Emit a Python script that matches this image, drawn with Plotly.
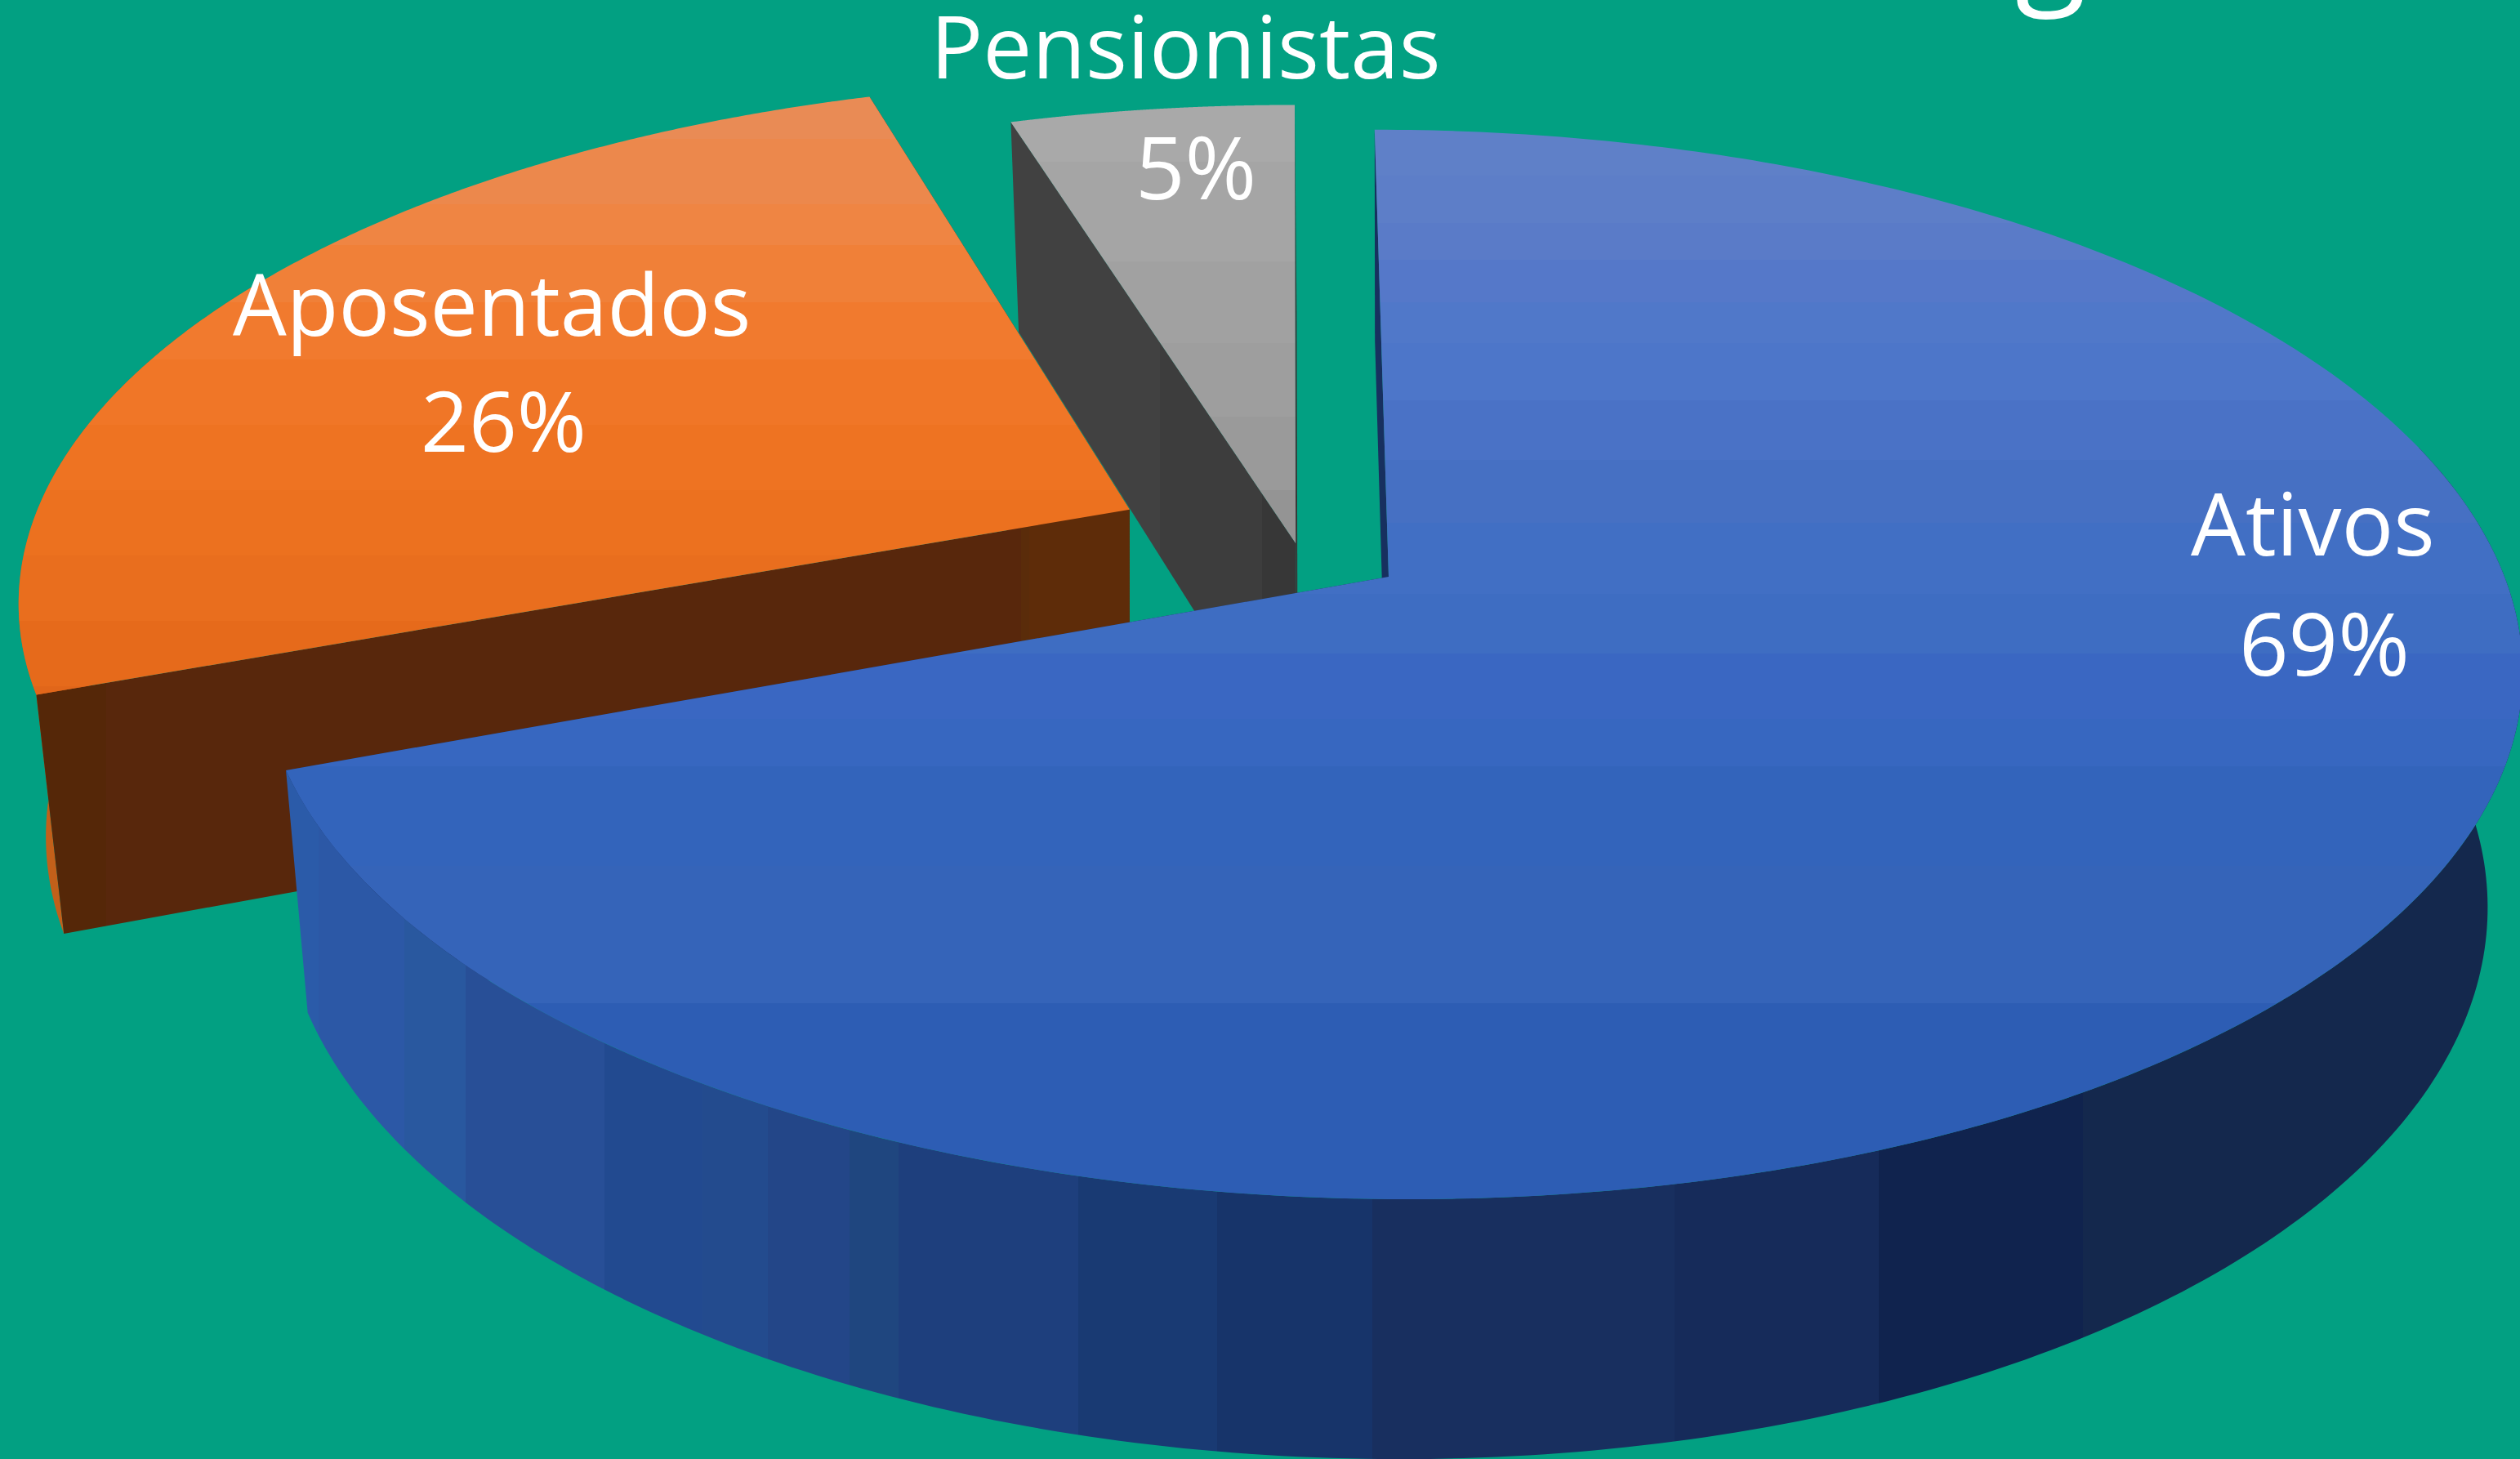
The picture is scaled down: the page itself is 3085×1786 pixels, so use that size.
import numpy as np
import plotly.graph_objects as go

W, H = 3085, 1786
categories = ["Ativos", "Aposentados", "Pensionistas"]
values = [69.3, 25.9, 4.8]
pcts = ["69%", "26%", "5%"]

# View (perspective projection of the pie disc)
APEX = (1700.0, 706.0)
FX, FY, SKEW, SKEW_Z, DEPTH, C_Y, C_Z = 1366.0, 637.0, -20.0, 8.0, 293.0, 0.164, 0.025
# Slice explosion in disc units (x, y)
explode = {"Ativos": (0.0, 0.0), "Aposentados": (-0.2352, 0.132), "Pensionistas": (-0.0833, 0.065)}

BG = "#02A082"
blue_top = [(157, "#5f80c8"), (215, "#5d7ec8"), (273, "#5a7bc8"), (318, "#5578c9"), (370, "#5078c9"),
            (420, "#4d76c9"), (490, "#4a72c6"), (563, "#4670c3"), (640, "#416fc4"), (727, "#3e6dc2"),
            (800, "#3a67c2"), (880, "#3767c0"), (938, "#3364bb"), (1060, "#3564b9"), (1228, "#2d5db4")]
blue_rim = [(345, "#2b5ba9"), (390, "#2c58a6"), (495, "#29589f"), (570, "#284f97"), (740, "#224a90"),
            (860, "#234b8e"), (940, "#234688"), (1040, "#1f467f"), (1100, "#1e3f7d"), (1320, "#193a73"),
            (1490, "#17346a"), (1680, "#182f5f"), (2050, "#162b5a"), (2300, "#10234e"), (2550, "#14284d")]
blue_cut = [(0, "#17305f")]
orange_top = [(110, "#e98b55"), (170, "#ec884c"), (250, "#ef8543"), (300, "#f08038"), (370, "#f17a2e"),
              (440, "#f07627"), (520, "#ee7322"), (600, "#ec711f"), (680, "#e96e1e"), (760, "#e66a1b"),
              (840, "#e1661a")]
orange_rim = [(0, "#c2601a")]
orange_cut = [(0, "#552708"), (130, "#58270c"), (1250, "#5a2c0a"), (1260, "#5e2c09")]
gray_top = [(125, "#a9a9a9"), (198, "#a5a5a5"), (320, "#a1a1a1"), (420, "#9e9e9e"), (510, "#9a9a9a"),
            (600, "#949494")]
gray_cut = [(0, "#414141"), (1420, "#3d3d3d"), (1545, "#373737")]

styles = {
    "Ativos": (blue_top, blue_rim, blue_cut, (75, None), 0.0),
    "Aposentados": (orange_top, orange_rim, orange_cut, (None, 300), SKEW_Z),
    "Pensionistas": (gray_top, None, gray_cut, None, 0.0),
}
label_pos = {"Ativos": (2831, 639, 2845, 786), "Aposentados": (602, 370, 616, 513),
             "Pensionistas": (1451, 54, 1464, 203)}
label_size = {"Ativos": 106, "Aposentados": 104, "Pensionistas": 107,
              "69%": 106, "26%": 103, "5%": 106}
FONT = "Open Sans"


def project(x, y, z, off, kz=SKEW_Z):
    x, y = np.asarray(x, float) + off[0], np.asarray(y, float) + off[1]
    z = np.asarray(z, float)
    w = 1 + C_Y * y + C_Z * z
    return APEX[0] + (FX * x + SKEW * y - kz * z) / w, APEX[1] + (-FY * y + DEPTH * z) / w


def scale(stops, span):
    out = []
    for i, (p, c) in enumerate(stops):
        f = min(max(p / span, 0), 1)
        out.append([0 if i == 0 else f, c])
        nxt = stops[i + 1][0] / span if i + 1 < len(stops) else 1
        out.append([min(nxt, 1), c])
    return out


def face(fig, xs, ys, stops, kind):
    span = W if kind == "horizontal" else H
    fig.add_trace(go.Scatter(
        x=xs, y=ys, mode="none", fill="toself", hoverinfo="skip", showlegend=False,
        fillcolor=stops[0][1],
        fillgradient=dict(type=kind, start=0, stop=span, colorscale=scale(stops, span)),
    ))


fig = go.Figure()
angles = np.cumsum([0] + values) / sum(values) * 360
spans = dict(zip(categories, zip(angles[:-1], angles[1:])))

for name in ["Pensionistas", "Aposentados", "Ativos"]:
    a0, a1 = spans[name]
    top, rim, cut, rimspan, cut_kz = styles[name]
    off = explode[name]

    def draw_cuts():
        for a in (a1, a0):
            s, c = np.sin(np.radians(a)), np.cos(np.radians(a))
            X, Y = project([0, s, s, 0], [0, c, c, 0], [0, 0, 1, 1], off, cut_kz)
            face(fig, X, Y, cut, "horizontal")

    def draw_rim():
        if rim is None:
            return
        r0 = a0 if rimspan[0] is None else rimspan[0]
        r1 = a1 if rimspan[1] is None else rimspan[1]
        t = np.radians(np.linspace(r0, r1, 240))
        sx, sy = np.sin(t), np.cos(t)
        Xa, Ya = project(sx, sy, np.zeros_like(t), off)
        Xb, Yb = project(sx, sy, np.ones_like(t), off)
        face(fig, np.r_[Xa, Xb[::-1]], np.r_[Ya, Yb[::-1]], rim, "horizontal")

    if a1 - a0 > 180:
        draw_cuts()
        draw_rim()
    else:
        draw_rim()
        draw_cuts()
    t = np.radians(np.linspace(a0, a1, 360))
    X, Y = project(np.r_[0, np.sin(t)], np.r_[0, np.cos(t)], np.zeros(t.size + 1), off)
    face(fig, X, Y, top, "vertical")

ann = []
for name, pct in zip(categories, pcts):
    x1, y1, x2, y2 = label_pos[name]
    for txt, x, y in ((name, x1, y1), (pct, x2, y2)):
        ann.append(dict(x=x, y=y, text=txt, showarrow=False, xanchor="center", yanchor="middle",
                        font=dict(family=FONT, size=label_size[txt], color="white")))
# descender of the cropped title
ann.append(dict(x=2510, y=35, text="g", showarrow=False, xanchor="center", yanchor="bottom",
                font=dict(family=FONT, size=160, color="white")))

fig.update_layout(
    width=W, height=H, margin=dict(l=0, r=0, t=0, b=0),
    paper_bgcolor=BG, plot_bgcolor=BG, showlegend=False, annotations=ann,
    xaxis=dict(range=[0, W], visible=False, fixedrange=True),
    yaxis=dict(range=[H, 0], visible=False, fixedrange=True),
)
fig.write_html("out.html", config={"displayModeBar": False},
               post_script="document.body.style.margin='0';document.body.style.overflow='hidden';")
